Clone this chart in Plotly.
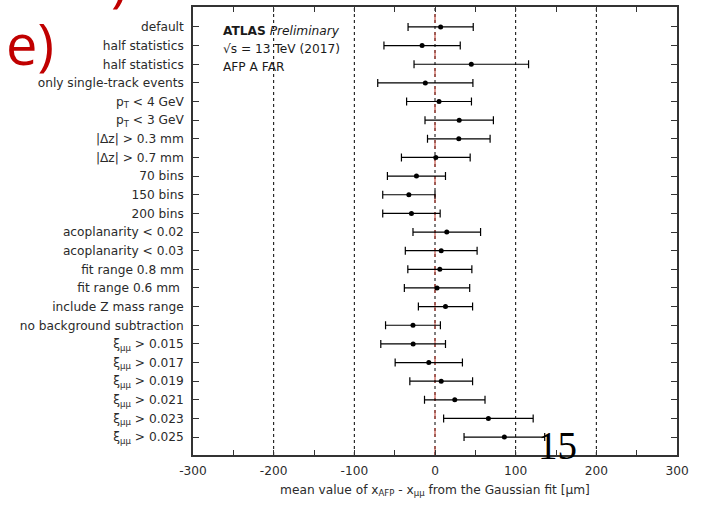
import plotly.graph_objects as go

labels = [
    "default", "half statistics", "half statistics", "only single-track events",
    "p<sub>T</sub> < 4 GeV", "p<sub>T</sub> < 3 GeV", "|Δz| > 0.3 mm", "|Δz| > 0.7 mm",
    "70 bins", "150 bins", "200 bins", "acoplanarity < 0.02", "acoplanarity < 0.03",
    "fit range 0.8 mm", "fit range 0.6 mm ", "include Z mass range",
    "no background subtraction",
    "ξ<sub>μμ</sub> > 0.015", "ξ<sub>μμ</sub> > 0.017", "ξ<sub>μμ</sub> > 0.019",
    "ξ<sub>μμ</sub> > 0.021", "ξ<sub>μμ</sub> > 0.023", "ξ<sub>μμ</sub> > 0.025",
]
means = [7, -16, 45, -12, 5, 30, 29.5, 1,
         -23, -32.4, -29.2, 14.6, 7.7, 6, 2.5, 13,
         -27.3, -27.1, -7.7, 7.7, 24.5, 66.2, 86]
errors = [40.4, 47.3, 71, 59, 40.2, 42.4, 38.8, 42.6,
          36, 32.4, 35.6, 41.9, 44.5, 39.7, 40.5, 33.6,
          34, 40.1, 41.7, 38.9, 37.5, 55.5, 50]
x_ticks = [-300, -200, -100, 0, 100, 200, 300]
minor_ticks = [-250, -150, -50, 50, 150, 250]
grid_lines = [-200, -100, 0, 100, 200]
info_lines = ["<b>ATLAS</b> <i>Preliminary</i>", "√s = 13 TeV (2017)", "AFP A FAR"]

rows = list(range(len(labels)))
FONT = "DejaVu Sans"
TXT = "#2a2a2a"
FS = 12.2

# plot area in pixels
L, R, T, B = 193, 677, 5, 455
def px(xp):
    return (xp - L) / (R - L)
def py(yp):
    return 1 - (yp - T) / (B - T)

fig = go.Figure()
fig.add_trace(go.Scatter(
    x=means, y=rows, mode="markers",
    marker=dict(color="black", size=5),
    error_x=dict(type="data", array=errors, visible=True, color="black",
                 thickness=1.2, width=4),
    showlegend=False, hoverinfo="skip",
))

shapes = []
for g in grid_lines:
    shapes.append(dict(type="line", xref="x", yref="paper", x0=g, x1=g, y0=0, y1=1,
                       line=dict(color="black", width=1, dash="dot"), layer="below"))
shapes.append(dict(type="line", xref="x", yref="paper", x0=0, x1=0, y0=0, y1=1,
                   line=dict(color="#c0392b", width=1, dash="dash"), layer="below"))

ann = []
for i, t in enumerate(info_lines):
    ann.append(dict(text=t, x=px(221), y=py(29 + 18 * i),
                    xref="paper", yref="paper", xanchor="left", yanchor="middle",
                    showarrow=False, font=dict(family=FONT, size=FS, color="#1a1a1a")))
# overlaid slide fragments
ann.append(dict(text="e)", x=px(56), y=py(41), xref="paper", yref="paper",
                xanchor="right", yanchor="middle", showarrow=False,
                font=dict(family="Open Sans", size=56, color="#c00000")))
ann.append(dict(text=")", x=px(130), y=py(-23), xref="paper", yref="paper",
                xanchor="right", yanchor="middle", showarrow=False,
                font=dict(family="Open Sans", size=56, color="#c00000")))
ann.append(dict(text="15", x=px(557), y=py(445), xref="paper", yref="paper",
                xanchor="center", yanchor="middle", showarrow=False,
                font=dict(family="Liberation Serif", size=39, color="black")))

fig.update_layout(
    width=712, height=505,
    margin=dict(l=L, r=712 - R, t=T, b=505 - B),
    paper_bgcolor="white", plot_bgcolor="white",
    font=dict(family=FONT, size=FS, color=TXT),
    shapes=shapes, annotations=ann,
    xaxis=dict(
        range=[-300, 300], tickvals=x_ticks, ticktext=[str(v) for v in x_ticks],
        showgrid=False, zeroline=False,
        showline=True, linecolor="#333333", linewidth=1.5, mirror="ticks",
        ticks="inside", ticklen=5, tickcolor="#333333",
        minor=dict(tickvals=minor_ticks, ticks="inside",
                   ticklen=5, tickcolor="#333333", showgrid=False),
        ticklabelstandoff=4,
        title=dict(text="mean value of x<sub>AFP</sub> - x<sub>μμ</sub> from the Gaussian fit [μm]",
                   font=dict(size=FS, color=TXT), standoff=8),
        tickfont=dict(size=FS, color=TXT),
    ),
    yaxis=dict(
        range=[22.96, -1.07], tickvals=rows, ticktext=labels,
        showgrid=False, zeroline=False,
        showline=True, linecolor="#333333", linewidth=1.5, mirror="ticks",
        ticks="inside", ticklen=6, tickcolor="#333333",
        ticklabelstandoff=5,
        tickfont=dict(size=FS, color=TXT),
    ),
)

fig.write_html("out.html")
